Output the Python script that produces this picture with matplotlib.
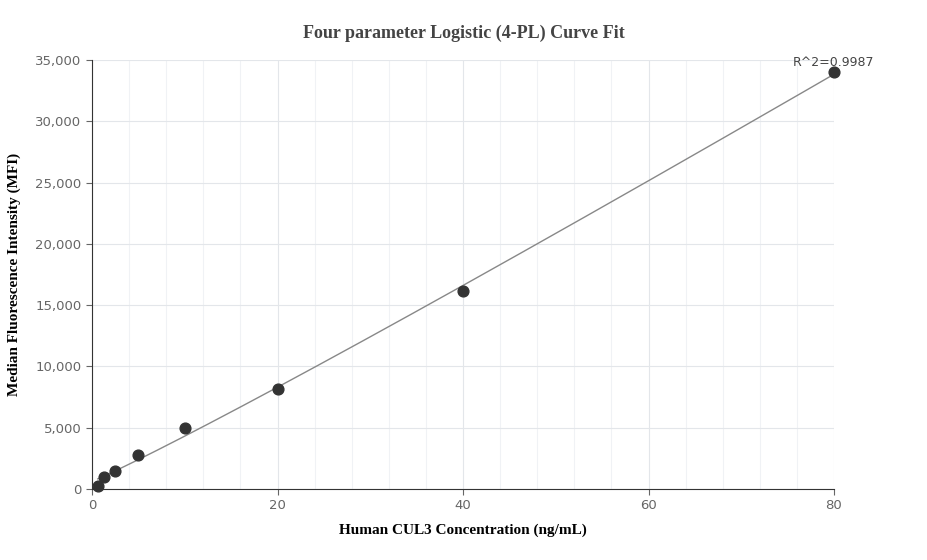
import numpy as np
import matplotlib.pyplot as plt

# standard curve points
conc = [0.625, 1.25, 2.5, 5, 10, 20, 40, 80]
mfi = [250, 950, 1500, 2800, 5000, 8150, 16150, 34000]
r2_label = "R^2=0.9987"

x = np.array(conc)
y = np.array(mfi)

# crude 4PL fit: grid over b, c; a and d solved by least squares
best = None
for b in np.linspace(0.8, 2.0, 61):
    for c in np.logspace(1, 4, 121):
        g = 1.0 / (1.0 + (x / c) ** b)
        A = np.column_stack([g, 1 - g])
        coef, *_ = np.linalg.lstsq(A, y, rcond=None)
        err = np.sum((A @ coef - y) ** 2)
        if best is None or err < best[0]:
            best = (err, b, c, coef)
_, b, c, (a, d) = best
xs = np.linspace(min(conc), max(conc), 400)
ys = d + (a - d) / (1 + (xs / c) ** b)

fig = plt.figure(figsize=(9.27, 5.6), dpi=100)
ax = fig.add_axes([92 / 927, 71 / 560, 742 / 927, 429 / 560])
ax.plot(xs, ys, color="#888888", lw=1, zorder=2)
ax.scatter(conc, mfi, s=60, color="#333333", zorder=3, clip_on=False)
ax.text(80, 34300, r2_label, ha="center", va="bottom", fontsize=9, color="#444444")

ax.set_xlim(0, 80)
ax.set_ylim(0, 35000)
ax.set_xticks([0, 20, 40, 60, 80])
ax.set_xticks(np.arange(0, 81, 4), minor=True)
ax.set_yticks(np.arange(0, 35001, 5000))
ax.set_yticklabels([f"{v:,}" for v in range(0, 35001, 5000)])
ax.grid(True, which="major", color="#e3e6ea", lw=0.8)
ax.grid(True, which="minor", axis="x", color="#f0f2f5", lw=0.8)
ax.set_axisbelow(True)
for s in ["top", "right"]:
    ax.spines[s].set_visible(False)
ax.spines["left"].set_color("#333333")
ax.spines["bottom"].set_color("#333333")
ax.tick_params(colors="#666666", labelsize=9.5, which="both", length=4)
ax.tick_params(which="minor", length=0)

ax.set_xlabel("Human CUL3 Concentration (ng/mL)", fontfamily="Liberation Serif",
              fontweight="bold", fontsize=11, labelpad=8)
ax.set_ylabel("Median Fluorescence Intensity (MFI)", fontfamily="Liberation Serif",
              fontweight="bold", fontsize=11, labelpad=10)
fig.text(464 / 927, 1 - 33 / 560, "Four parameter Logistic (4-PL) Curve Fit",
         ha="center", va="center", fontfamily="Liberation Serif",
         fontweight="bold", fontsize=13, color="#444444")

fig.savefig("out.png", dpi=100)
